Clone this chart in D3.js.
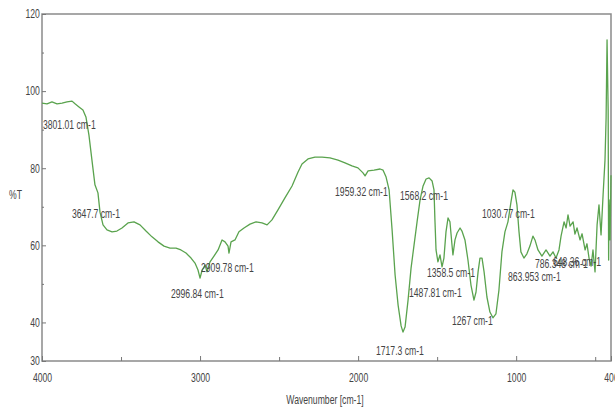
<!DOCTYPE html>
<html lang="en">
<head>
    <meta charset="UTF-8">
    <title>FTIR spectrum</title>
    <script src="https://cdn.jsdelivr.net/npm/d3@7"></script>
    <style>
        body{
            margin: 0;
            background: #fff;
        }
        svg{
            display: block;
            font-family: "Liberation Sans", Arial, sans-serif;
        }
        .frame{
            fill: none;
            stroke: #8a8a8a;
            stroke-width: 1.5px;
        }
        .spectrum{
            fill: none;
            stroke: #5aa34e;
            stroke-width: 1.3px;
            stroke-linejoin: round;
        }
        .axis path, .axis line{
            stroke: #777;
        }
        .axis text, .peak, .title{
            fill: #444;
            font-size: 12px;
        }
    </style>
</head>
<body>
<script>
    // spectrum
    const wavenumber = [4000, 3968, 3937, 3905, 3873, 3842, 3810, 3791, 3766, 3741, 3722, 3703, 3684, 3665, 3646, 3633, 3614, 3589, 3557, 3526,
        3494, 3456, 3418, 3380, 3342, 3304, 3266, 3228, 3190, 3152, 3121, 3089, 3057, 3032, 3013, 3000, 2987, 2968, 2956, 2937,
        2912, 2886, 2861, 2842, 2823, 2817, 2804, 2779, 2754, 2722, 2684, 2646, 2608, 2576, 2545, 2507, 2463, 2418, 2380, 2355,
        2317, 2273, 2228, 2178, 2127, 2083, 2039, 2001, 1969, 1956, 1937, 1899, 1861, 1842, 1823, 1804, 1785, 1766, 1747, 1728,
        1716, 1703, 1684, 1665, 1646, 1627, 1608, 1589, 1570, 1551, 1532, 1520, 1514, 1507, 1495, 1482, 1469, 1457, 1444, 1431,
        1419, 1406, 1400, 1387, 1374, 1355, 1343, 1324, 1305, 1286, 1267, 1254, 1241, 1229, 1216, 1203, 1185, 1166, 1147, 1128,
        1109, 1090, 1071, 1052, 1033, 1020, 1008, 995, 982, 970, 951, 932, 913, 894, 881, 862, 837, 811, 786, 767,
        748, 729, 716, 697, 684, 672, 659, 640, 628, 615, 596, 583, 564, 552, 539, 526, 514, 501, 488, 476,
        463, 450, 438, 431, 425, 418, 415, 412, 406, 400];
    const transmittance = [96.9, 96.7, 97.2, 96.7, 96.9, 97.2, 97.4, 96.7, 95.9, 95.1, 93.3, 88.6, 82.1, 75.7, 73.6, 68.6, 65.3, 64.0, 63.5, 63.7,
        64.5, 65.8, 66.1, 65.3, 63.7, 62.2, 60.9, 59.8, 59.3, 59.3, 58.8, 58.0, 56.7, 55.4, 53.6, 51.5, 53.6, 54.9, 53.1, 55.7,
        57.2, 58.8, 61.4, 60.9, 59.8, 58.0, 60.9, 61.4, 63.5, 64.5, 65.5, 66.1, 65.8, 65.3, 66.6, 69.2, 72.3, 75.4, 79.0, 81.1,
        82.4, 82.9, 82.9, 82.7, 82.1, 81.4, 80.6, 80.1, 78.8, 78.0, 79.3, 79.5, 79.8, 79.5, 77.7, 74.4, 64.0, 52.3, 44.5, 39.1,
        37.5, 38.8, 45.8, 54.1, 60.1, 66.1, 71.8, 75.4, 77.2, 77.5, 76.7, 74.4, 66.6, 58.8, 55.7, 57.5, 54.4, 56.7, 63.5, 67.1,
        66.1, 60.1, 57.5, 61.4, 63.2, 64.5, 63.7, 61.4, 56.2, 49.7, 45.8, 47.9, 53.1, 56.7, 56.7, 53.1, 46.6, 42.7, 41.2, 42.2,
        48.4, 58.3, 63.5, 66.1, 71.2, 74.4, 73.8, 70.5, 63.5, 58.3, 56.7, 57.8, 59.8, 62.4, 61.4, 58.8, 57.2, 58.8, 57.2, 58.3,
        56.7, 58.8, 62.4, 66.1, 64.5, 67.9, 65.0, 66.1, 62.9, 64.5, 61.4, 63.0, 58.8, 60.4, 56.7, 54.6, 58.8, 53.1, 65.3, 70.5,
        62.7, 73.1, 82.1, 93.0, 113.3, 95.1, 56.2, 71.8, 61.4, 78.2];

    // peak annotations: text and where it sits (wavenumber, %T)
    const peakText = ["3801.01 cm-1", "3647.7 cm-1", "2996.84 cm-1", "2909.78 cm-1", "1959.32 cm-1", "1568.2 cm-1", "1030.77 cm-1",
        "1358.5 cm-1", "1487.81 cm-1", "1267 cm-1", "1717.3 cm-1", "863.953 cm-1", "786.348 cm-1", "648.36 cm-1"];
    const peakW = [3994, 3810, 3184, 2994, 2146, 1735, 1216, 1564, 1678, 1406, 1887, 1052, 881, 767];
    const peakT = [90.2, 67.1, 46.3, 53.1, 72.8, 71.8, 67.1, 51.8, 46.6, 39.3, 31.6, 50.8, 54.1, 54.6];

    // tick labels
    const xTicks = [4000, 3000, 2000, 1000, 400];
    const xMinor = [3500, 2500, 1500, 500];
    const yTicks = [30, 40, 60, 80, 100, 120];
    const yMinor = [50, 70, 90, 110];

    const width = 615, height = 407;
    const margins = {top: 14, right: 4, bottom: 46, left: 42};
    const squeeze = "scale(0.72,1)"; // the original uses a narrow face

    const svg = d3.select("body").append("svg")
        .attr("width", width)
        .attr("height", height);

    const xScale = d3.scaleLinear()
        .domain([4000, 400])
        .range([margins.left, width - margins.right]);
    const yScale = d3.scaleLinear()
        .domain([30, 120])
        .range([height - margins.bottom, margins.top]);

    // frame
    svg.append("rect")
        .attr("class", "frame")
        .attr("x", margins.left)
        .attr("y", margins.top)
        .attr("width", width - margins.left - margins.right)
        .attr("height", height - margins.top - margins.bottom);

    // x axis, ticks pointing in
    svg.append("g")
        .attr("class", "axis")
        .attr("transform", `translate(0,${height - margins.bottom})`)
        .call(d3.axisBottom(xScale).tickValues(xTicks).tickSizeInner(-5).tickSizeOuter(0).tickPadding(12).tickFormat(d3.format("d")))
        .call(g => g.select(".domain").remove())
        .call(g => g.selectAll("text").attr("transform", squeeze));
    svg.append("g")
        .attr("class", "axis")
        .attr("transform", `translate(0,${height - margins.bottom})`)
        .call(d3.axisBottom(xScale).tickValues(xMinor).tickSizeInner(-4).tickSizeOuter(0).tickFormat(""))
        .call(g => g.select(".domain").remove());

    // y axis
    svg.append("g")
        .attr("class", "axis")
        .attr("transform", `translate(${margins.left},0)`)
        .call(d3.axisLeft(yScale).tickValues(yTicks).tickSizeInner(-4).tickSizeOuter(0).tickPadding(3))
        .call(g => g.select(".domain").remove())
        .call(g => g.selectAll("text").attr("transform", squeeze));
    svg.append("g")
        .attr("class", "axis")
        .attr("transform", `translate(${margins.left},0)`)
        .call(d3.axisLeft(yScale).tickValues(yMinor).tickSizeInner(-2).tickSizeOuter(0).tickFormat(""))
        .call(g => g.select(".domain").remove());

    // axis titles
    svg.append("text")
        .attr("class", "title")
        .attr("text-anchor", "middle")
        .attr("transform", `translate(325,404) ${squeeze}`)
        .text("Wavenumber [cm-1]");
    svg.append("text")
        .attr("class", "title")
        .attr("transform", `translate(9,199) ${squeeze}`)
        .text("%T");

    // the spectrum
    const spectrum = wavenumber.map((w, i) => ({w: w, t: transmittance[i]}));
    const line = d3.line()
        .x(d => xScale(d.w))
        .y(d => yScale(d.t));
    svg.append("path")
        .datum(spectrum)
        .attr("class", "spectrum")
        .attr("d", line);

    // peak labels
    svg.append("g")
        .selectAll("text")
        .data(peakText)
        .enter()
        .append("text")
        .attr("class", "peak")
        .attr("transform", (d, i) => `translate(${xScale(peakW[i])},${yScale(peakT[i])}) ${squeeze}`)
        .text(d => d);
</script>
</body>
</html>
